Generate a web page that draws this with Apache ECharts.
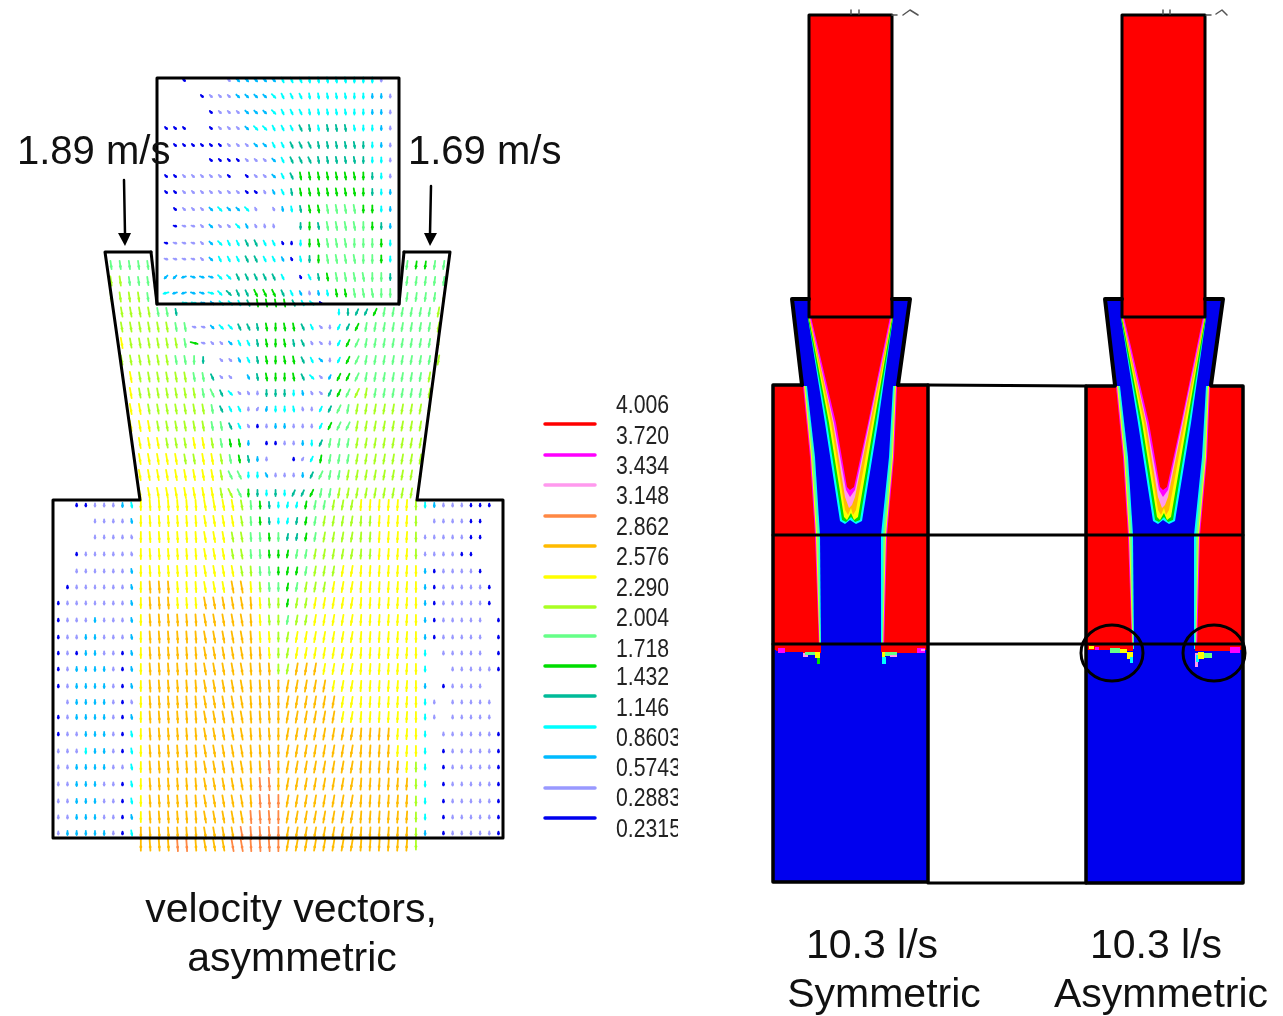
<!DOCTYPE html>
<html><head><meta charset="utf-8">
<style>html,body{margin:0;padding:0;background:#fff}#c{width:1283px;height:1016px}</style>
<script src="https://cdn.jsdelivr.net/npm/echarts@6/dist/echarts.min.js"></script>
</head><body><div id="c"></div>
<script>
// ---------- legend ----------
const legendLabels = ['4.006','3.720','3.434','3.148','2.862','2.576','2.290','2.004','1.718','1.432','1.146','0.8603','0.5743','0.2883','0.2315'];
const legendLabelY = [404,435,465,495,526,556,587,617,648,676,707,737,767,797,828];
const legendLineY = [424,455,485,516,546,577,607,636,666,696,727,757,788,818];
// velocity of each class, lowest first, with its colour
const levelValues = [0.2315,0.2883,0.5743,0.8603,1.146,1.432,1.718,2.004,2.290,2.576,2.862,3.148,3.434,3.720];
const levelColors = ['#0000ee','#9999ff','#00bbff','#00ffff','#00bb99','#00dd00','#66ff88','#aaff22','#ffff00','#ffbb00','#ff8844','#ff99ee','#ff00ff','#ff0000'];
const tiltDegrees = {'0':0,i:4,'1':10,'2':25,'3':45,'4':75,o:-4,n:-10,m:-25,k:-45,j:-75};

// ---------- velocity vectors: one char per grid cell ----------
const topBoxRowY = [80,96,112,128,145,160,176,192,209,226,243,259,277,293];
const topBoxLevels = [
 '..0....1 22222 33333333333 1 .',
 '....0111 2222 33333333333 221',
 '.....0111222 33333333333 221',
 '000..0111 233333 443444333 21',
 '.000000 111 22 33 444444444 321',
 '.....0000 111 23 444444444 331',
 '00111110 . 011 23 4 55555555 431',
 '001111111 001 234 55555555 432',
 '.0111232231.1234556666 5532',
 '.011121132111 .. 454 66666 542',
 '01111 2 333 44 33 00 3 55 666666 53',
 '11111 2 333 44 33 2 0 345 666666 53',
 '22222233 44444 3 . 0 345 666666 4',
 '32222334445554321235566666'];
const topBoxTilts = [
 '33333333333332221111100000','33333333333332221111100000','33333333333332221111100000',
 '33333333333322221111110000','33333333333322222111110000','33333333333332222111110000',
 '33333333333332211111110000','33333333333222111111110000','33333333332221111111110000',
 '44443333322110000111110000','44443332222222000111100000','44443322222222210011110000',
 'kkj44433222222222111111000','jjj44433222222221111111100'];

const nozzleRowY = [303,312,327,343,360,377,393,409,426,443,459,475,493];
const nozzleLevels = [
 '....... 3322333455554330 .............',
 '7777664 ................ . 34445 666666 7',
 '77777766 11233444 5555 43 11 345 6666666 67',
 '8777777 6 5 111 2 33 4 555 44 111 3 5 666666666 7',
 '777777 666 4 . 11 2 3 4 5555 4 3 2 1 3 5 666666666 7',
 '.8777777 66 4 11 . 2 4 5555 4 3 1 2 5 5 66666666 7 .',
 '.8 7777777 66 4 3 111 444 3 2 1 1 4 5 6 77 666666 7 .',
 '.88 7777777 6 4 33 1 1 2 333 1 1 3 4 66 77777777 7 .',
 '.888 777777 66 4 3 1 0 1 22 111 3 5 66 77777777 . .',
 '..888 777 88 7 6 55 2 . 00 11 2 3 4 666 77777777 . .',
 '..88888 77 88 7 6 5 4 2 1 .. 0 1 3 5 666 77777777 . .',
 '..888888888 7 66 33 2 111 2 4 666 7 77777777 . .',
 '..888888888 77 6 5 4 3 4 3 44 5 66 77 7777777 . . .'];
const nozzleTilts = [
 '.......4443332211112233',
 '11111110000000000000000000mmmnnnnnnnnn',
 '11111111443332211011223 0 mmmnnnnnnnnn',
 '11111111443332211011223 0 mmmnnnnnnnnn',
 '11111111003332211011223 0 mmmnnnnnnnnn',
 '11111111112332211001233 m mmmnnnnnnnnn',
 '11111111112233200000123 m mmmnnnnnnnnn',
 '11111111111222 0mn00110mmmn nnnnnnnnnn',
 '11111111111122 2000000 0mmmmn nnnnnnnn',
 '11111111111111 00000000mn nnnnnnnnnnnn',
 '11111111111111 100000mmn nnnnnnnnnnnnn',
 '11111111111122 0020000mmn nnnnnnnnnnnn',
 '111111111111 22 00000mmm nnnnnnnnnnnnn'];

const wingRowY = [265,281,297];
const wingLeftLevels = ['66666','77666','77776'];
const wingRightLevels = ['65566','66666','66667'];

const lowerRowY = [505,521,537,554,571,587,603,620,637,653,669,686,702,717,734,751,767,784,801,817,833,845];
const lowerLevels = [
 '..0011123 88888888888 7654333566777 888888 7 32111000.',
 '....11112 88888888888 7654334567 77777 8888 7 .111100..',
 '....11111 8888888888 77 66 5 6 44 5 6 7 77777 8888 7 11111 00 ..',
 '..0111111 8888888888 77 66 555 66 7 777777 8888 7 1111 00 ...',
 '..1111112 88888888888 77 66 555 6 777 88888888 8 20 1111 0 ..',
 '.01111112 8 999 888888 99 8 7 66 5 6 777 888888888 8 20 11111 0 .',
 '011111112 8 999 888 999999 8 77 5 77 88888888888 8 20 11111 0 .',
 '011121112 8 999999999999 8 77 6 77 88888888888 8 20 11111 . 0',
 '011221112 8 999999999999 88 77 8888888888888 8 20 11111 . 0',
 '010221102 8 9999999999999 8 77 8888888888888 8 3 . 11111 . 0',
 '012222102 8 99999999999999 77 999 8888888888 8 3 .. 11111 0',
 '012222102 8 99999999999999999999 888888888 8 2 . 0 1111 ..',
 '.12222101 8 999999999999999999999 88888888 8 3 1 . 11111 .',
 '012222102 8 999999999999999999999 88888888 8 3 1 . 11111 .',
 '011222103 8 999999999999999999999999 999 88 8 3 . 111111 0',
 '111322103 8 999999999999999999999999999 88 8 3 . 0 11111 0',
 '112222113 8 9999999999999 a 99999999999999 8 7 3 . 0 11111 0',
 '112221103 8 999999999999 aa 999999999999999 7 3 . 0 11111 0',
 '112221103 8 999999999999 aaa 99999999999999 7 3 . 0 11111 0',
 '112221102 8 99999999999 aaaa 99999999999999 7 3 . 0 11111 0',
 '122222103 9 9999999999 aaaaa 99999999999999 7 2 . 0 11111 0',
 '......... 9 999 aa 9999 aaaaaa 99999999999999 7 .........'];
const lowerColumnTilt = '000000001 0iiiiii 11111 iii 0 nnnnnnnnoooooo 0 000000000';

// ---------- left figure outlines ----------
const wallOutline = [[151,252],[105,252],[119,350],[140,500],[53,500],[53,838],[503,838],[503,500],[417,500],[437,350],[450,252],[404,252]];
const leftLip = [[151,252],[157,304]];
const rightLip = [[404,252],[399,304]];
const inletBox = [[157,78],[399,78],[399,304],[157,304],[157,78]];
const arrowLeft = [[124,180],[125,234]];
const arrowRight = [[431,186],[430,234]];

// ---------- right figure: regions drawn for each case ----------
const caseOffsets = [0,313];
const tubeRect = [[809,15],[892,15],[892,317],[809,317],[809,15]];
const collarBlue = [[792,300],[910,300],[898,385],[897,388],[882,535],[882,650],[820,650],[815,535],[803,388],[802,385]];
const collarLeft = [[809,299],[792,299],[802,385]];
const collarRight = [[892,299],[910,299],[898,385]];
const chamberUpper = [[[773,385],[928,385],[928,650],[773,650]],[[1086,386],[1243,386],[1243,650],[1086,650]]];
const chamberLower = [[[773,650],[928,650],[928,882],[773,882]],[[1086,650],[1243,650],[1243,883],[1086,883]]];
const chamberOutline = [[[802,385],[773,385],[773,882],[928,882],[928,385],[898,385]],[[1115,386],[1086,386],[1086,883],[1243,883],[1243,386],[1211,386]]];
const coneCyan = [[808,318],[825,423],[840,521],[845,524],[850,520],[856,524],[862,521],[878,423],[893,318]];
const coneGreen = [[808,318],[827,423],[842,520],[846,522],[851,517],[855,522],[860,520],[876,423],[893,318]];
const coneYellow = [[809,318],[829,423],[844,517],[847,520],[851,513],[854,520],[858,517],[874,423],[892,318]];
const coneOrange = [[809,318],[831,423],[845,510],[848,515],[851,508],[853,515],[856,510],[872,423],[892,318]];
const conePink = [[810,318],[833,423],[845,497],[849,508],[852,505],[855,497],[870,423],[891,318]];
const coneMagenta = [[810,318],[834,423],[846,490],[850,497],[855,490],[869,423],[891,318]];
const coneRed = [[811,317],[836,423],[847,487],[850,490],[854,487],[868,423],[890,317]];
// chamber/jet interface: outermost contour first, running down to the chamber red
const sideLeftCyan = [[807,386],[815,457],[820,535],[821,649]];
const sideLeftGreen = [[806,386],[814,457],[819,535],[820.5,649]];
const sideLeftYellow = [[805,386],[812,457],[817,535],[820,649]];
const sideLeftMagenta = [[804,386],[811,457],[816,535],[819.5,649]];
const sideLeftRed = [[803,386],[810,457],[815,535],[819,649]];
const sideRightCyan = [[893,386],[889,457],[881,535],[881,649]];
const sideRightGreen = [[894,386],[890,457],[883,535],[882,649]];
const sideRightYellow = [[895,386],[892,457],[885,535],[882.5,649]];
const sideRightMagenta = [[896,386],[893,457],[886,535],[883,649]];
const sideRightRed = [[897,386],[894,457],[887,535],[884,649]];
// jagged free surface under the red band: [x0,y0,x1,y1,class]
const surfaceCaseA = [[776,644,821,651,13],[785,644,803,652,13],[803,644,821,653,13],[881,644,925,652,13],[885,644,917,653,13],[778,648,785,653,12],[803,653,808,657,11],[805,652,815,655,6],[815,652,820,658,8],[817,658,820,664,5],[882,652,885,657,8],[882,657,886,664,3],[885,652,897,656,6],[890,655,897,657,11],[917,648,925,653,12],[921,649,925,651,11]];
const surfaceCaseB = [[1089,644,1133,648,13],[1089,644,1110,650,13],[1110,644,1133,651,13],[1195,644,1240,651,13],[1089,646,1094,649,8],[1095,647,1099,650,12],[1110,648,1120,653,6],[1120,649,1127,653,8],[1127,652,1133,659,8],[1130,657,1133,663,3],[1195,653,1198,667,11],[1196,655,1199,662,3],[1198,652,1204,659,8],[1204,653,1212,658,6],[1230,647,1240,653,12]];
const spanLines = [[[928,385],[1086,386]],[[928,883],[1086,883]],[[773,535],[1243,535]],[[773,644],[1243,644]]];
const circledZones = [[1112,653],[1214,653]];
const stray = [[[851,10],[851,14]],[[859,10],[859,14]],[[892,15],[897,15]],[[903,15],[910,10],[918,15]],
               [[1163,10],[1163,14]],[[1170,10],[1170,14]],[[1206,15],[1211,15]],[[1216,14],[1222,10],[1227,15]]];

// ---------- captions ----------
const speedLeft = '1.89 m/s', speedRight = '1.69 m/s';
const captionLeft = ['velocity vectors,','asymmetric'];
const captionCaseA = ['10.3 l/s','Symmetric'];
const captionCaseB = ['10.3 l/s','Asymmetric'];

// ---------- build ----------
const clean = s => s.replace(/ /g,'');
const levelIndex = c => parseInt(c,16);
const vectors = [];
function addBlock(rowsY, levels, tilts, x0, dx, fallback) {
  rowsY.forEach((y,r) => {
    const row = clean(levels[r]);
    const tiltRow = clean(tilts ? tilts[r] : '');
    [...row].forEach((c,i) => {
      if (c === '.') return;
      const t = tiltDegrees[tiltRow[i]];
      vectors.push([x0+dx*i, y, levelIndex(c), t === undefined ? fallback : t]);
    });
  });
}
addBlock(topBoxRowY, topBoxLevels, topBoxTilts, 166, 8.97, 0);
addBlock(nozzleRowY, nozzleLevels, nozzleTilts, 121.7, 9.05, -10);
addBlock(wingRowY, wingLeftLevels, null, 111, 9.2, 8);
addBlock(wingRowY, wingRightLevels, null, 407, 9.2, -8);
addBlock(lowerRowY, lowerLevels, lowerRowY.map(()=>lowerColumnTilt), 58.3, 9.17, 0);

const marks = [];
const poly = (pts,color,dx=0) => marks.push({k:'poly',pts:pts.map(p=>[p[0]+dx,p[1]]),color});
const line = (pts,width,color='#000',dx=0) => marks.push({k:'line',pts:pts.map(p=>[p[0]+dx,p[1]]),width,color});
const text = (s,x,y,size,align='center',squeeze=1,color='#111') => marks.push({k:'text',s,x,y,size,align,squeeze,color});
const C = levelColors;

caseOffsets.forEach((dx,n) => {
  poly(chamberLower[n], C[0]);
  poly(chamberUpper[n], C[13]);
  poly(collarBlue, C[0], dx);
  [[sideLeftCyan,C[3]],[sideLeftGreen,C[6]],[sideLeftYellow,C[8]],[sideLeftMagenta,C[12]],[sideLeftRed,C[13]]].forEach(([s,c]) =>
    poly([[774,386],...s,[774,649]], c, dx));
  [[sideRightCyan,C[3]],[sideRightGreen,C[6]],[sideRightYellow,C[8]],[sideRightMagenta,C[12]],[sideRightRed,C[13]]].forEach(([s,c]) =>
    poly([[927,386],...s,[927,649]], c, dx));
  [[coneCyan,C[3]],[coneGreen,C[5]],[coneYellow,C[8]],[coneOrange,C[9]],[conePink,C[11]],[coneMagenta,C[12]],[coneRed,C[13]]].forEach(([s,c]) => poly(s,c,dx));
  poly(tubeRect, C[13], dx);
});
surfaceCaseA.concat(surfaceCaseB).forEach(r => poly([[r[0],r[1]],[r[2],r[1]],[r[2],r[3]],[r[0],r[3]]], C[r[4]]));
caseOffsets.forEach((dx,n) => {
  line(collarLeft,4,'#000',dx); line(collarRight,4,'#000',dx);
  line(chamberOutline[n],3.5);
  line(tubeRect,3,'#000',dx);
});
spanLines.forEach(s => line(s,3));
stray.forEach(s => line(s,1.5,'#555'));
circledZones.forEach(c => marks.push({k:'ell',cx:c[0],cy:c[1],rx:31,ry:28}));

line(wallOutline,3); line(leftLip,3); line(rightLip,3); line(inletBox,3);
line(arrowLeft,2.5); line(arrowRight,2.5);
poly([[118,233],[131,233],[125,246]],'#000');
poly([[424,233],[437,233],[430,246]],'#000');

legendLineY.forEach((y,i) => line([[545,y],[595,y]],3.5,C[13-i]));
legendLabels.forEach((s,i) => text(s,616,legendLabelY[i]+2,25,'left',0.85,'#222'));
poly([[678,720],[700,720],[700,850],[678,850]],'#fff');   // the scale's labels are cut off at this edge

text(speedLeft,17,152.5,40,'left'); text(speedRight,408,152.5,40,'left');
text(captionLeft[0],291,911,41); text(captionLeft[1],292,960,41);
text(captionCaseA[0],872,947,41); text(captionCaseA[1],884,996,41);
text(captionCaseB[0],1156,947,41); text(captionCaseB[1],1161,996,41);

const chart = echarts.init(document.getElementById('c'),null,{renderer:'canvas',width:1283,height:1016});
chart.setOption({
  animation:false, backgroundColor:'#fff',
  grid:{left:0,right:0,top:0,bottom:0},
  xAxis:{type:'value',min:0,max:1283,show:false},
  yAxis:{type:'value',min:0,max:1016,inverse:true,show:false},
  series:[
   {type:'custom',silent:true,clip:false,data:vectors,
    renderItem(p,api){
      const [x,y] = api.coord([api.value(0),api.value(1)]);
      const lvl = api.value(2), a = api.value(3)*Math.PI/180;
      const len = 2+3.6*levelValues[lvl], sx = Math.sin(a)*len/2, sy = Math.cos(a)*len/2;
      const col = levelColors[lvl];
      return {type:'group',children:[
        {type:'line',shape:{x1:x-sx,y1:y-sy,x2:x+sx,y2:y+sy},style:{stroke:col,lineWidth:1.8,lineCap:'round'}},
        {type:'circle',shape:{cx:x+sx*0.35,cy:y+sy*0.35,r:1.4},style:{fill:col}}
      ]};
    }},
   {type:'custom',silent:true,clip:false,data:marks.map((m,i)=>[i,0]),
    renderItem(p,api){
      const m = marks[p.dataIndex];
      const pts = a => a.map(q=>api.coord(q));
      if(m.k==='poly') return {type:'polygon',shape:{points:pts(m.pts)},style:{fill:m.color}};
      if(m.k==='line') return {type:'polyline',shape:{points:pts(m.pts)},style:{stroke:m.color,lineWidth:m.width,fill:null,lineJoin:'round',lineCap:'round'}};
      if(m.k==='ell'){const c=api.coord([m.cx,m.cy]);return {type:'ellipse',shape:{cx:c[0],cy:c[1],rx:m.rx,ry:m.ry},style:{stroke:'#000',lineWidth:3,fill:null}};}
      const c = api.coord([m.x,m.y]);
      return {type:'text',x:c[0],y:c[1],scaleX:m.squeeze,style:{text:m.s,fill:m.color,font:m.size+'px "Liberation Sans",Arial,sans-serif',align:m.align,verticalAlign:'middle'}};
    }}
  ]
});
</script></body></html>
